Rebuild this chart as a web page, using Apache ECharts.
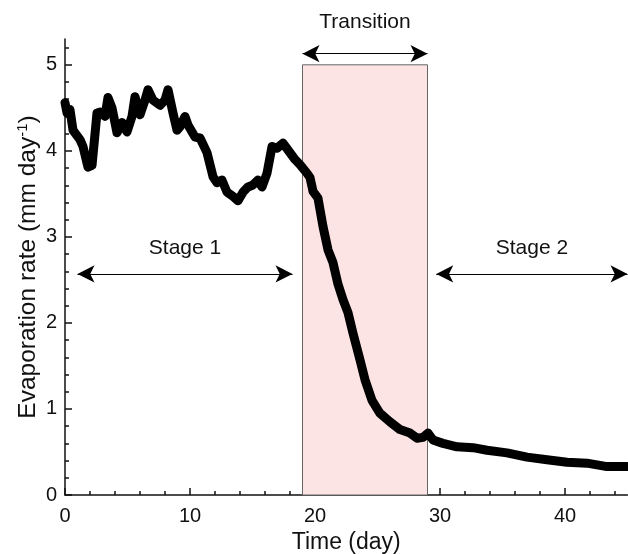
<!DOCTYPE html>
<html lang="en">
<head>
    <meta charset="UTF-8">
    <title>Evaporation rate</title>
    <script src="https://cdn.jsdelivr.net/npm/echarts@6/dist/echarts.min.js"></script>
    <style>
        html, body { margin: 0; padding: 0; background: #fff; }
    </style>
</head>
<body>
    <div id="chart" style="width: 628px; height: 554px;"></div>

    <script>
        // time (day) and evaporation rate (mm/day)
        var days = [0, 0.16, 0.4, 0.64, 1.2, 1.44, 1.84, 2.16, 2.56, 2.8, 3.2, 3.44, 3.76, 4.16, 4.56, 4.96,
            5.36, 5.6, 6.0, 6.4, 6.64, 7.04, 7.6, 8.0, 8.24, 8.64, 8.96, 9.2, 9.6, 9.84, 10.4, 10.8,
            11.36, 11.84, 12.16, 12.56, 12.96, 13.44, 13.84, 14.24, 14.64, 15.0, 15.44, 15.76, 16.16, 16.56,
            16.96, 17.44, 17.84, 18.4, 18.8, 19.36, 19.6, 19.84, 20.24, 20.64, 21.04, 21.44, 21.84, 22.24,
            22.64, 23.04, 23.6, 24.0, 24.56, 25.2, 26.0, 26.8, 27.6, 28.16, 28.64, 29.04, 29.44, 30.24,
            31.36, 32.64, 33.76, 35.36, 36.96, 38.56, 40.16, 41.76, 43.36, 45];
        var rates = [4.56, 4.44, 4.48, 4.24, 4.13, 4.05, 3.81, 3.83, 4.44, 4.45, 4.40, 4.62, 4.50, 4.21, 4.33, 4.22,
            4.40, 4.63, 4.42, 4.59, 4.71, 4.59, 4.53, 4.59, 4.71, 4.44, 4.24, 4.28, 4.40, 4.30, 4.16, 4.15,
            3.98, 3.70, 3.63, 3.66, 3.52, 3.47, 3.42, 3.52, 3.58, 3.60, 3.66, 3.58, 3.74, 4.05,
            4.03, 4.09, 4.01, 3.90, 3.84, 3.74, 3.69, 3.53, 3.45, 3.12, 2.85, 2.70, 2.45, 2.27,
            2.12, 1.88, 1.57, 1.34, 1.10, 0.95, 0.85, 0.76, 0.72, 0.66, 0.67, 0.72, 0.64, 0.60,
            0.56, 0.55, 0.52, 0.49, 0.44, 0.41, 0.38, 0.37, 0.33, 0.33];

        var xMajor = [0, 10, 20, 30, 40];
        var xMinor = [2, 4, 6, 8, 12, 14, 16, 18, 22, 24, 26, 28, 32, 34, 36, 38, 42, 44];
        var yMajor = [0, 1, 2, 3, 4, 5];
        var yMinor = [0.2, 0.4, 0.6, 0.8, 1.2, 1.4, 1.6, 1.8, 2.2, 2.4, 2.6, 2.8,
            3.2, 3.4, 3.6, 3.8, 4.2, 4.4, 4.6, 4.8, 5.2];

        // transition box and the stage arrows (day range, height)
        var transition = [19, 29];
        var boxTop = 5;
        var stage1 = [1, 18.2];
        var stage2 = [29.7, 45];
        var stageY = 2.57;
        var transY = 5.13;

        var font = 'Liberation Sans, Arial, sans-serif';
        var chart = echarts.init(document.getElementById('chart'));

        var arrowLabel = function (text, dist) {
            return { show: true, position: 'middle', formatter: text, distance: dist,
                color: '#111', fontSize: 21, fontFamily: font };
        };

        var option = {
            animation: false,
            grid: { left: 65, right: 0.5, top: 39, bottom: 59, outerBoundsMode: 'none' },
            xAxis: [
                {
                    type: 'value', min: 0, max: 45,
                    name: 'Time (day)', nameLocation: 'middle', nameGap: 32,
                    nameTextStyle: { fontSize: 23, fontFamily: font, color: '#111' },
                    axisLine: { show: true, lineStyle: { color: '#111', width: 1.5 } },
                    axisTick: { inside: true, length: 7, customValues: xMajor, lineStyle: { color: '#111', width: 1.5 } },
                    axisLabel: { customValues: xMajor, fontSize: 20, fontFamily: font, color: '#111', margin: 11 },
                    splitLine: { show: false }
                },
                {
                    type: 'value', min: 0, max: 45, position: 'bottom',
                    axisLine: { show: false },
                    axisTick: { show: true, inside: true, length: 4, customValues: xMinor, lineStyle: { color: '#111', width: 1.5 } },
                    axisLabel: { show: false },
                    splitLine: { show: false }
                }
            ],
            yAxis: [
                {
                    type: 'value', min: 0, max: 5.3,
                    name: '{a|Evaporation rate (mm day}{s|-1}{a|)}', nameLocation: 'middle', nameGap: 23,
                    nameMoveOverlap: false,
                    nameTextStyle: {
                        fontFamily: font, color: '#111',
                        rich: {
                            a: { fontSize: 24.5, fontFamily: font, color: '#111', lineHeight: 27 },
                            s: { fontSize: 15, fontFamily: font, color: '#111', lineHeight: 12, verticalAlign: 'top' }
                        }
                    },
                    axisLine: { show: true, lineStyle: { color: '#111', width: 1.5 } },
                    axisTick: { inside: true, length: 7, customValues: yMajor, lineStyle: { color: '#111', width: 1.5 } },
                    axisLabel: { customValues: yMajor, fontSize: 20, fontFamily: font, color: '#111', margin: 8 },
                    splitLine: { show: false }
                },
                {
                    type: 'value', min: 0, max: 5.3, position: 'left',
                    axisLine: { show: false },
                    axisTick: { show: true, inside: true, length: 4, customValues: yMinor, lineStyle: { color: '#111', width: 1.5 } },
                    axisLabel: { show: false },
                    splitLine: { show: false }
                }
            ],
            series: [
                {
                    type: 'line',
                    data: days.map(function (d, i) { return [d, rates[i]]; }),
                    showSymbol: false,
                    lineStyle: { color: '#000', width: 9, join: 'round', cap: 'round' },
                    z: 3,
                    markArea: {
                        silent: true,
                        itemStyle: { color: '#fde4e4', borderColor: '#666', borderWidth: 1 },
                        data: [[{ coord: [transition[0], 0] }, { coord: [transition[1], boxTop] }]]
                    },
                    markLine: {
                        silent: true,
                        symbol: ['arrow', 'arrow'],
                        symbolSize: [13, 17],
                        lineStyle: { type: 'solid', color: '#000', width: 1.2 },
                        data: [
                            [{ coord: [stage1[0], stageY], label: arrowLabel('Stage 1', 15) }, { coord: [stage1[1], stageY] }],
                            [{ coord: [stage2[0], stageY], label: arrowLabel('Stage 2', 15) }, { coord: [stage2[1], stageY] }],
                            [{ coord: [transition[0], transY], label: arrowLabel('Transition', 21) }, { coord: [transition[1], transY] }]
                        ]
                    }
                }
            ]
        };
        chart.setOption(option);
    </script>
</body>
</html>
